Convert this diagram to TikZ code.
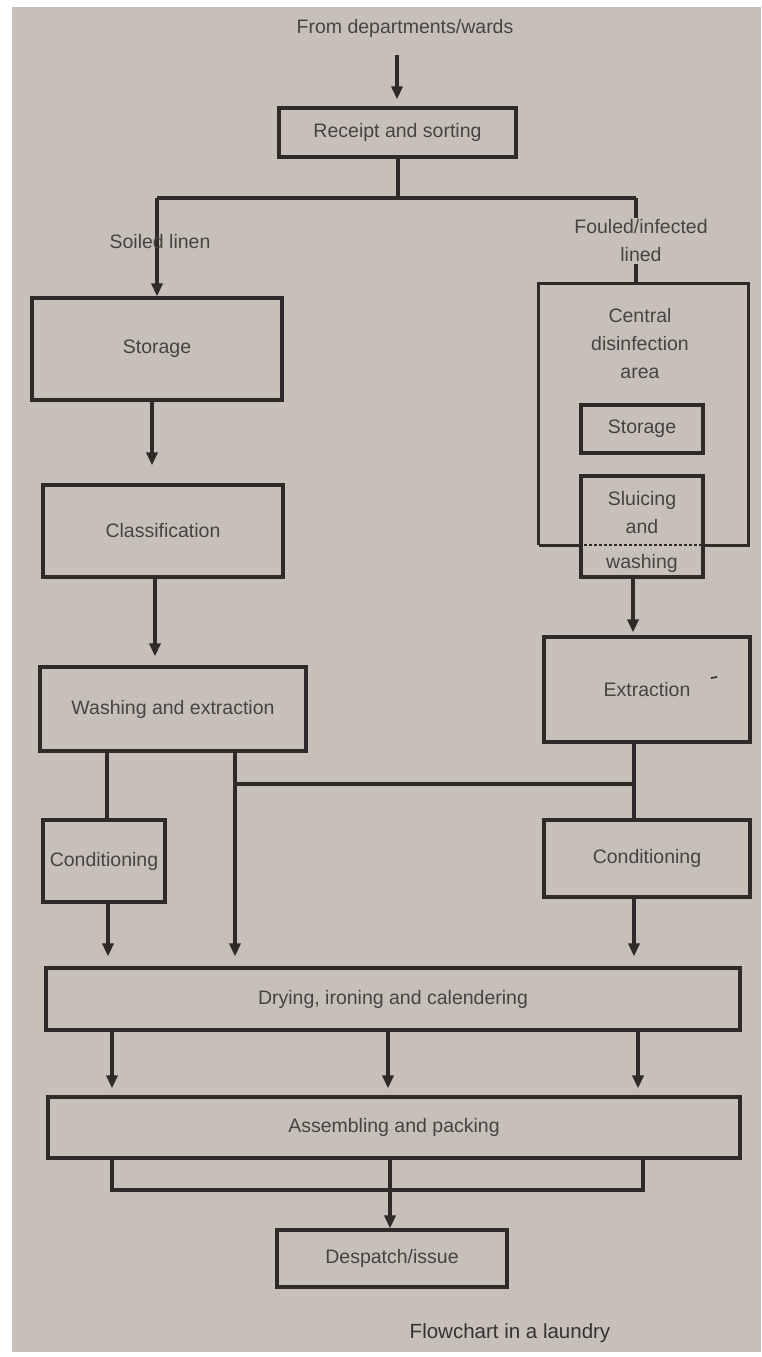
\documentclass[tikz,border=0pt]{standalone}
\usepackage{fontspec}
\setmainfont{Liberation Sans}
\usetikzlibrary{arrows.meta}
\definecolor{bgc}{RGB}{198,192,185}
\definecolor{linec}{RGB}{45,42,40}
\definecolor{txtc}{RGB}{70,68,66}
\tikzset{
  every node/.style={text=txtc, font=\fontsize{19.5}{27}\selectfont, inner sep=0pt},
  box/.style={draw=linec, line width=3.2pt, rectangle},
  conn/.style={draw=linec, line width=3.2pt},
  arr/.style={conn, -{Triangle[length=13pt,width=11pt]}},
}
\begin{document}
\begin{tikzpicture}[x=1pt,y=-1pt]
\useasboundingbox (0,0) rectangle (761,1357);
\fill[white] (0,0) rectangle (761,1357);
\fill[bgc] (12,7) rectangle (761,1352);

% nodes
\node (from) at (405,28) {From departments/wards};
\node[box, minimum width=237pt, minimum height=49pt] (rs) at (397.5,132.5) {Receipt and sorting};
\node[box, minimum width=250pt, minimum height=102pt] (st1) at (157,349) {Storage};
\node[box, minimum width=240pt, minimum height=92pt] (cls) at (163,531) {Classification};
\node[box, minimum width=266pt, minimum height=84pt] (wash) at (173,709) {Washing and extraction};
\node[box, minimum width=122pt, minimum height=82pt] (lcond) at (104,861) {Conditioning};

% central disinfection area
\node[minimum width=209pt, minimum height=261pt] (cda) at (643.5,414.5) {};
\node[align=center, font=\fontsize{19.5}{28}\selectfont] (cdat) at (640,344) {Central\\disinfection\\area};
\node[box, minimum width=122pt, minimum height=48pt] (st2) at (642,429) {Storage};
\node[box, minimum width=122pt, minimum height=101pt] (sl) at (642,526.5) {};
\node (sl1) at (642,500) {Sluicing};
\node (sl2) at (642,527) {and};
\node (sl3) at (642,563) {washing};
\draw[conn] (cda.south west) -- (cda.north west) -- (cda.north east) -- (cda.south east) -- (sl.east |- cda.south);
\draw[conn] (cda.south west) -- (sl.west |- cda.south);
\draw[draw=linec, line width=2.4pt, dash pattern=on 2.4pt off 2.6pt] (sl.west |- cda.south) -- (sl.east |- cda.south);

\node[box, minimum width=206pt, minimum height=105pt] (ext) at (647,689.5) {Extraction};
\coordinate (tick1) at (711,678);
\coordinate (tick2) at (717,677);
\draw[linec, line width=1.6pt] (tick1) -- (tick2);
\node[box, minimum width=206pt, minimum height=77pt] (rcond) at (647,858.5) {Conditioning};
\node[box, minimum width=694pt, minimum height=62pt] (dry) at (393,999) {Drying, ironing and calendering};
\node[box, minimum width=692pt, minimum height=61pt] (asm) at (394,1127.5) {Assembling and packing};
\node[box, minimum width=230pt, minimum height=57pt] (desp) at (392,1258.5) {Despatch/issue};
\node[text=black!80, font=\fontsize{20.5}{27}\selectfont] (cap) at (510,1333) {Flowchart in a laundry};

% connectors
\coordinate (fa0) at (397,55);
\draw[arr, shorten >=7pt] (fa0) -- (rs.north -| fa0);
\coordinate (sp) at (398,198);
\coordinate (spl) at (157,198);
\coordinate (spr) at (636,198);
\draw[conn] (rs.south -| sp) -- (sp);
\draw[conn] (spl) -- (spr);
\draw[arr] (spl) -- (spl |- st1.north);
\draw[conn] (spr) -- (spr |- cda.north);
\draw[arr, shorten >=18pt] (st1.south -| 152,0) -- (cls.north -| 152,0);
\draw[arr, shorten >=9pt] (cls.south -| 155,0) -- (wash.north -| 155,0);
\draw[conn] (wash.south -| 107,0) -- (lcond.north -| 107,0);
\draw[arr, shorten >=10pt] (lcond.south -| 108,0) -- (dry.north -| 108,0);
\draw[arr, shorten >=10pt] (wash.south -| 235,0) -- (dry.north -| 235,0);
\draw[arr, shorten >=3pt] (sl.south -| 633,0) -- (ext.north -| 633,0);
\coordinate (br) at (634,784);
\draw[conn] (ext.south -| br) -- (rcond.north -| br);
\draw[conn] (br) -- (br -| 235,0);
\draw[arr, shorten >=10pt] (rcond.south -| 634,0) -- (dry.north -| 634,0);
\draw[arr, shorten >=7pt] (dry.south -| 112,0) -- (asm.north -| 112,0);
\draw[arr, shorten >=7pt] (dry.south -| 388,0) -- (asm.north -| 388,0);
\draw[arr, shorten >=7pt] (dry.south -| 638,0) -- (asm.north -| 638,0);
\coordinate (bl) at (112,1190);
\coordinate (brr) at (643,1190);
\draw[conn] (asm.south -| bl) -- (bl) -- (brr) -- (asm.south -| brr);
\draw[arr] (asm.south -| 390,0) -- (desp.north -| 390,0);

% branch labels, set over the lines
\node (soil) at (160,242) {Soiled linen};
\node[fill=bgc, align=center, inner sep=2pt, font=\fontsize{19.5}{28}\selectfont] (foul) at (641,241) {Fouled/infected\\lined};
\end{tikzpicture}
\end{document}
